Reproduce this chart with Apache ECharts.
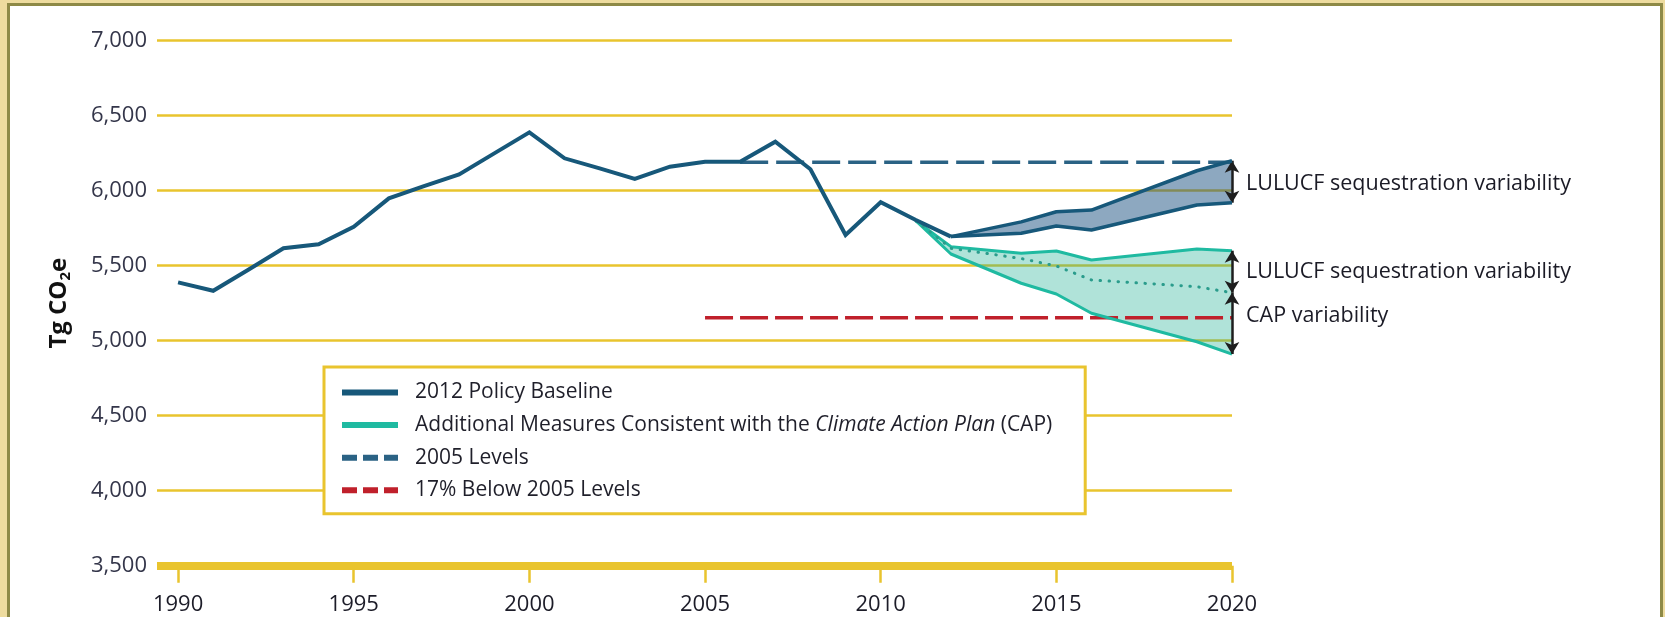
<!DOCTYPE html>
<html>
<head>
<meta charset="utf-8">
<script src="https://cdn.jsdelivr.net/npm/echarts@6/dist/echarts.min.js"></script>
<style>
  html, body { margin: 0; padding: 0; }
  body { width: 1665px; height: 617px; overflow: hidden; position: relative;
         background: #eedc9f; }
  #panel { position: absolute; left: 7px; top: 3px; width: 1650px; height: 700px;
           background: #fff; border: 3px solid #8e8a47; }
  #chart { position: absolute; left: 0; top: 0; width: 1665px; height: 617px; }
</style>
</head>
<body>
<div id="panel"></div>
<div id="chart"></div>
<script>
// historical emissions (2012 Policy Baseline)
var histYears = [1990, 1991, 1992, 1993, 1994, 1995, 1996, 1997, 1998, 1999, 2000,
  2001, 2002, 2003, 2004, 2005, 2006, 2007, 2008, 2009, 2010, 2011, 2012]
var histValues = [5389, 5333, 5473, 5616, 5643, 5760, 5949, 6031, 6109, 6249, 6389,
  6216, 6149, 6078, 6160, 6193, 6193, 6327, 6143, 5705, 5923, 5805, 5694]

// baseline projection range (LULUCF variability)
var projYears = [2012, 2014, 2015, 2016, 2019, 2020]
var baselineHigh = [5694, 5792, 5860, 5871, 6133, 6200]
var baselineLow = [5694, 5716, 5765, 5738, 5905, 5920]

// additional measures (CAP) range
var capYears = [2011, 2012, 2014, 2015, 2016, 2019, 2020]
var capHigh = [5800, 5627, 5583, 5598, 5538, 5611, 5600]
var capMid = [5800, 5616, 5548, 5498, 5405, 5360, 5320]
var capLow = [5800, 5578, 5383, 5311, 5183, 4993, 4911]

// reference levels
var level2005Years = [2006, 2020]
var level2005 = 6190
var level17Years = [2005, 2020]
var level17 = 5153

var xTicks = [1990, 1995, 2000, 2005, 2010, 2015, 2020]
var yMin = 3500, yMax = 7000, yStep = 500

var NAME_BASE = '2012 Policy Baseline'
var NAME_CAP = 'Additional Measures Consistent with the Climate Action Plan (CAP)'
var NAME_2005 = '2005 Levels'
var NAME_17 = '17% Below 2005 Levels'
var NOTE_LULUCF = 'LULUCF sequestration variability'
var NOTE_CAP = 'CAP variability'

var GOLD = '#e9c42e'
var NAVY = '#17587a'
var TEAL = '#1fbaa1'
var RED = '#c0202b'

function pairs(xs, ys) {
  return xs.map(function (x, i) { return [x, ys[i]] })
}
function last(arr) { return arr[arr.length - 1] }

// filled range between two lines, drawn as one polygon through the axes
function band(name, xs, hi, lo, color) {
  return {
    name: name,
    type: 'custom',
    silent: true,
    z: 1,
    data: pairs(xs, hi),
    renderItem: function (params, api) {
      if (params.dataIndex !== 0) return null
      var top = xs.map(function (x, i) { return api.coord([x, hi[i]]) })
      var bottom = xs.map(function (x, i) { return api.coord([x, lo[i]]) }).reverse()
      return {
        type: 'polygon',
        shape: { points: top.concat(bottom) },
        style: { fill: color }
      }
    }
  }
}

var chart = echarts.init(document.getElementById('chart'))
var endX = last(projYears)

chart.setOption({
  animation: false,
  textStyle: { fontFamily: 'Open Sans' },
  grid: { left: 157, right: 433, top: 40.7, bottom: 51.3 },
  legend: {
    orient: 'vertical',
    left: 324,
    top: 367,
    padding: [15, 33, 13, 15],
    itemGap: 11.6,
    itemWidth: 56,
    itemHeight: 2,
    backgroundColor: '#fff',
    borderColor: GOLD,
    borderWidth: 3,
    borderRadius: 0,
    selectedMode: false,
    data: [
      { name: NAME_BASE, lineStyle: { width: 6, type: 'solid' } },
      { name: NAME_CAP, lineStyle: { width: 6, type: 'solid' } },
      { name: NAME_2005, lineStyle: { width: 6, type: [15, 6] } },
      { name: NAME_17, lineStyle: { width: 6, type: [15, 6] } }
    ],
    formatter: function (name) {
      if (name === NAME_CAP) {
        return '{n|Additional Measures Consistent with the }{i|Climate Action Plan}{n| (CAP)}'
      }
      return '{n|' + name + '}'
    },
    textStyle: {
      fontSize: 21,
      color: '#1f1f2a',
      padding: [0, 0, 0, 12],
      rich: {
        n: { fontSize: 21, color: '#1f1f2a', fontFamily: 'Open Sans', lineHeight: 22 },
        i: { fontSize: 21, color: '#1f1f2a', fontFamily: 'Open Sans', fontStyle: 'italic', lineHeight: 22 }
      }
    }
  },
  xAxis: {
    type: 'value',
    min: 1989.4,
    max: 2020,
    axisLine: { onZero: false, lineStyle: { color: GOLD, width: 8, cap: 'butt' } },
    axisTick: { customValues: xTicks, length: 17, lineStyle: { color: GOLD, width: 2.5 } },
    axisLabel: {
      customValues: xTicks,
      margin: 28,
      fontSize: 22,
      color: '#1c1c28',
      fontFamily: 'Open Sans',
      formatter: function (v) { return String(v) }
    },
    splitLine: { show: false }
  },
  yAxis: {
    type: 'value',
    min: yMin,
    max: yMax,
    interval: yStep,
    axisLine: { show: false },
    axisTick: { show: false },
    axisLabel: {
      margin: 10,
      fontSize: 22,
      color: '#34364a',
      fontFamily: 'Open Sans',
      formatter: function (v) { return v.toLocaleString('en-US') }
    },
    splitLine: { lineStyle: { color: GOLD, width: 2.5 } },
    name: '{a|Tg CO}{s|2}{a|e}',
    nameLocation: 'middle',
    nameRotate: 90,
    nameGap: 82,
    nameTextStyle: {
      rich: {
        a: { fontSize: 24, fontWeight: 'bold', color: '#111', fontFamily: 'Open Sans', lineHeight: 32 },
        s: { fontSize: 15, fontWeight: 'bold', color: '#111', fontFamily: 'Open Sans', lineHeight: 32, padding: [13, 0, 0, 0] }
      }
    }
  },
  series: [
    band('baselineRange', projYears, baselineHigh, baselineLow, 'rgba(28,82,130,0.5)'),
    band('capRange', capYears, capHigh, capLow, 'rgba(30,175,145,0.35)'),
    {
      name: NAME_BASE, type: 'line', symbol: 'none', z: 5,
      data: pairs(histYears, histValues),
      itemStyle: { color: NAVY },
      lineStyle: { color: NAVY, width: 4, join: 'miter' }
    },
    {
      name: NAME_BASE, type: 'line', symbol: 'none', z: 5,
      data: pairs(projYears, baselineHigh),
      itemStyle: { color: NAVY },
      lineStyle: { color: NAVY, width: 3.5 }
    },
    {
      name: NAME_BASE, type: 'line', symbol: 'none', z: 5,
      data: pairs(projYears, baselineLow),
      itemStyle: { color: NAVY },
      lineStyle: { color: NAVY, width: 3.5 }
    },
    {
      name: NAME_CAP, type: 'line', symbol: 'none', z: 4,
      data: pairs(capYears, capHigh),
      itemStyle: { color: TEAL },
      lineStyle: { color: TEAL, width: 3 }
    },
    {
      name: NAME_CAP, type: 'line', symbol: 'none', z: 4,
      data: pairs(capYears, capLow),
      itemStyle: { color: TEAL },
      lineStyle: { color: TEAL, width: 3 }
    },
    {
      name: NAME_CAP, type: 'line', symbol: 'none', z: 4,
      data: pairs(capYears, capMid),
      itemStyle: { color: TEAL },
      lineStyle: { color: '#2a9c8c', width: 3, type: [0.5, 8.5], cap: 'round' }
    },
    {
      name: NAME_2005, type: 'line', symbol: 'none', z: 3,
      data: level2005Years.map(function (y) { return [y, level2005] }),
      itemStyle: { color: '#2a6284' },
      lineStyle: { color: '#2a6284', width: 3.5, type: [28, 8] }
    },
    {
      name: NAME_17, type: 'line', symbol: 'none', z: 3,
      data: level17Years.map(function (y) { return [y, level17] }),
      itemStyle: { color: RED },
      lineStyle: { color: RED, width: 3.5, type: [28, 7] },
      markLine: {
        silent: true,
        symbol: ['arrow', 'arrow'],
        symbolSize: [11, 12],
        label: { show: false },
        lineStyle: { color: '#1e1e1e', width: 2.5, type: 'solid' },
        data: [
          [{ coord: [endX, last(baselineHigh)] }, { coord: [endX, last(baselineLow)] }],
          [{ coord: [endX, last(capHigh)] }, { coord: [endX, last(capMid)] }],
          [{ coord: [endX, last(capMid)] }, { coord: [endX, last(capLow)] }]
        ]
      },
      markPoint: {
        silent: true,
        symbol: 'circle',
        symbolSize: 0,
        itemStyle: { color: 'transparent' },
        label: {
          show: true,
          position: 'right',
          distance: 14,
          fontSize: 21.5,
          color: '#1b1b26',
          fontFamily: 'Open Sans'
        },
        data: [
          { coord: [endX, (last(baselineHigh) + last(baselineLow)) / 2], label: { formatter: NOTE_LULUCF, offset: [0, 2] } },
          { coord: [endX, (last(capHigh) + last(capMid)) / 2], label: { formatter: NOTE_LULUCF } },
          { coord: [endX, (last(capMid) + last(capLow)) / 2], label: { formatter: NOTE_CAP, offset: [0, -8] } }
        ]
      }
    }
  ]
})
</script>
</body>
</html>
